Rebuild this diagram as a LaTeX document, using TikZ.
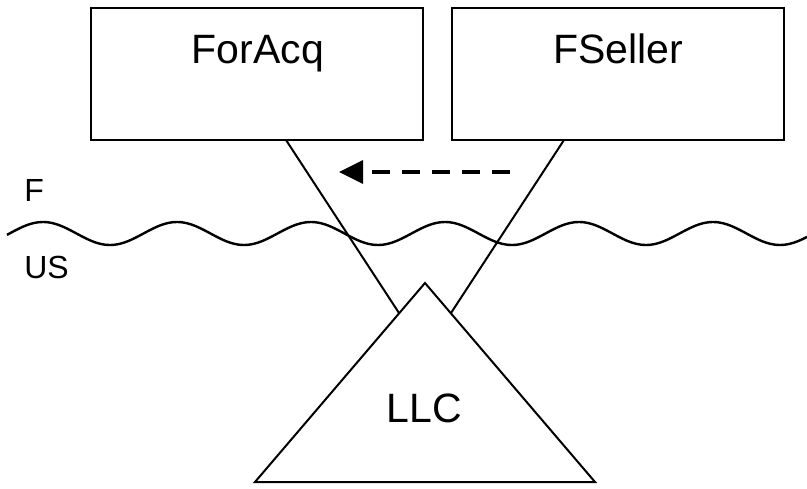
\documentclass[tikz,border=0pt]{standalone}
\usepackage{fontspec}
\setmainfont{Liberation Sans}
\usetikzlibrary{arrows.meta}
\begin{document}
\begin{tikzpicture}[x=0.75pt,y=-0.75pt,
  box/.style={draw, line width=1.7pt, minimum width=332*0.75pt, minimum height=132*0.75pt, inner sep=0pt},
  bigtxt/.style={font=\fontsize{30.75pt}{36pt}\selectfont, inner sep=0pt, anchor=base},
  smalltxt/.style={font=\fontsize{24pt}{28pt}\selectfont, inner sep=0pt, anchor=base west},
  conn/.style={line width=1.5pt},
  wave/.style={line width=1.8pt},
  move/.style={line width=2.4pt, dash pattern=on 18*0.75pt off 12*0.75pt, -{Triangle[length=24*0.75pt, width=23*0.75pt]}}
]
\useasboundingbox (0,0) rectangle (807,489);
% boxes
\node[box] (acq) at (257,74) {};
\node[box] (sel) at (618,74) {};
\node[bigtxt] (acqt) at (258,63) {ForAcq};
\node[bigtxt] (selt) at (618.5,63) {FSeller};
% triangle
\coordinate (apex) at (425,283);
\coordinate (bl) at (255,482);
\coordinate (br) at (595,482);
\draw[conn, line join=miter] (apex) -- (bl) -- (br) -- cycle;
\node[bigtxt] (llc) at (424.5,422) {LLC};
% connectors
\coordinate (a1) at (286,140);
\coordinate (a2) at (399,313);
\coordinate (s1) at (564,140);
\coordinate (s2) at (451,313);
\draw[conn] (a1) -- (a2);
\draw[conn] (s1) -- (s2);
% wave border
\draw[wave] plot[domain=7:807, samples=240, smooth] ({\x},{233.5-11.5*cos(2.686567*(\x-43))});
\node[smalltxt] (ftxt) at (24,201) {F};
\node[smalltxt] (ustxt) at (24,278) {US};
% dashed arrow
\coordinate (d1) at (510,172);
\coordinate (d2) at (339,172);
\draw[move] (d1) -- (d2);
\end{tikzpicture}
\end{document}
